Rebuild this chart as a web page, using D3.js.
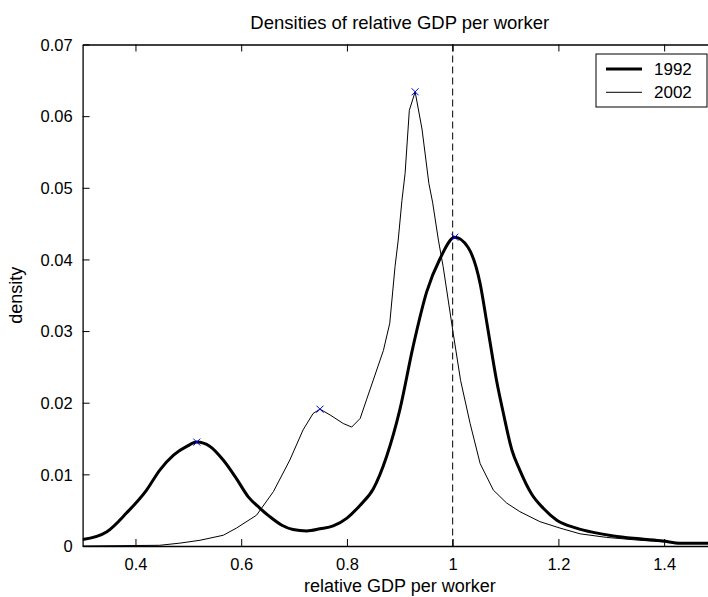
<!DOCTYPE html>
<html>
<head>
<meta charset="utf-8">
<script src="https://cdn.jsdelivr.net/npm/d3@7"></script>
<style>
  html, body { margin: 0; padding: 0; background: #fff; }
  svg { display: block; }
  text { font-family: "Liberation Sans", Arial, sans-serif; fill: #000; }
</style>
</head>
<body>
<svg id="chart" width="708" height="597"></svg>
<script>
// ---- data ----
const titleText = "Densities of relative GDP per worker";
const xLabelText = "relative GDP per worker";
const yLabelText = "density";
const seriesNames = ["1992", "2002"];

const x1992 = [0.30,0.346,0.383,0.421,0.446,0.472,0.497,0.516,0.541,0.566,0.591,0.613,0.635,0.654,0.677,0.698,0.724,0.749,0.774,0.800,0.825,0.850,0.875,0.900,0.925,0.951,0.976,1.004,1.029,1.052,1.065,1.083,1.096,1.112,1.127,1.149,1.171,1.197,1.234,1.266,1.304,1.354,1.398,1.430,1.500];
const y1992 = [0.0009,0.0020,0.0046,0.0078,0.0106,0.0127,0.0139,0.0145,0.0139,0.0120,0.0094,0.0069,0.0053,0.0041,0.0029,0.0023,0.0021,0.0024,0.0028,0.0039,0.0057,0.0080,0.0125,0.0190,0.0278,0.0355,0.0401,0.0431,0.0417,0.0366,0.0310,0.0231,0.0185,0.0134,0.0106,0.0073,0.0053,0.0036,0.0025,0.0019,0.0014,0.0010,0.0007,0.0004,0.0004];

const x2002 = [0.30,0.446,0.484,0.522,0.566,0.591,0.629,0.661,0.692,0.717,0.736,0.749,0.768,0.793,0.809,0.825,0.837,0.869,0.881,0.891,0.897,0.904,0.910,0.918,0.929,0.942,0.955,0.962,0.973,0.982,1.001,1.015,1.033,1.052,1.077,1.102,1.127,1.165,1.203,1.241,1.291,1.354,1.417,1.500];
const y2002 = [0.0000,0.0001,0.0004,0.0008,0.0015,0.0025,0.0043,0.0076,0.0120,0.0162,0.0185,0.0191,0.0183,0.0171,0.0166,0.0178,0.0204,0.0273,0.0311,0.0390,0.0427,0.0482,0.0520,0.0608,0.0634,0.0582,0.0506,0.0480,0.0427,0.0390,0.0297,0.0231,0.0171,0.0115,0.0078,0.0060,0.0048,0.0034,0.0025,0.0017,0.0012,0.0008,0.0005,0.0004];

// peak markers (x, y)
const peakX = [0.516, 1.004, 0.749, 0.929];
const peakY = [0.0145, 0.0431, 0.0191, 0.0634];

const xTicks = [0.4, 0.6, 0.8, 1.0, 1.2, 1.4];
const yTicks = [0, 0.01, 0.02, 0.03, 0.04, 0.05, 0.06, 0.07];
const refLineX = 1.0;

// ---- layout ----
const svg = d3.select("#chart");
const pL = 82.6, pR = 717, pT = 44.5, pB = 546;

const x = d3.scaleLinear().domain([0.3, 1.5]).range([pL, pR]);
const y = d3.scaleLinear().domain([0, 0.07]).range([pB, pT]);

// title
svg.append("text").attr("x", (pL + pR) / 2).attr("y", 29)
  .attr("text-anchor", "middle").style("font-size", "18.5px").text(titleText);

// axis labels
svg.append("text").attr("x", (pL + pR) / 2).attr("y", 592)
  .attr("text-anchor", "middle").style("font-size", "18px").text(xLabelText);
svg.append("text").attr("transform", `translate(22,${(pT + pB) / 2}) rotate(-90)`)
  .attr("text-anchor", "middle").style("font-size", "18px").text(yLabelText);

// dashed reference line at x = 1
svg.append("line")
  .attr("x1", x(refLineX)).attr("x2", x(refLineX))
  .attr("y1", pT).attr("y2", pB)
  .attr("stroke", "#000").attr("stroke-width", 1).attr("stroke-dasharray", "7,4");

// curves
svg.append("clipPath").attr("id", "plotclip").append("rect")
  .attr("x", pL).attr("y", pT).attr("width", pR - pL).attr("height", pB - pT);

const d1992 = x1992.map((v, i) => [v, y1992[i]]);
const d2002 = x2002.map((v, i) => [v, y2002[i]]);

svg.append("path").datum(d2002)
  .attr("clip-path", "url(#plotclip)")
  .attr("fill", "none").attr("stroke", "#000").attr("stroke-width", 1)
  .attr("d", d3.line().x(d => x(d[0])).y(d => y(d[1])).curve(d3.curveLinear));

svg.append("path").datum(d1992)
  .attr("clip-path", "url(#plotclip)")
  .attr("fill", "none").attr("stroke", "#000").attr("stroke-width", 3)
  .attr("stroke-linejoin", "round")
  .attr("d", d3.line().x(d => x(d[0])).y(d => y(d[1])).curve(d3.curveMonotoneX));

// peak markers (blue x)
const ms = 3.5;
peakX.forEach((px, i) => {
  const cx = x(px), cy = y(peakY[i]);
  svg.append("path")
    .attr("d", `M${cx - ms},${cy - ms}L${cx + ms},${cy + ms}M${cx - ms},${cy + ms}L${cx + ms},${cy - ms}`)
    .attr("stroke", "#0000ff").attr("stroke-width", 1).attr("fill", "none");
});

// axes (MATLAB style: inward ticks, box)
const tickLen = 7;
const axB = svg.append("g").attr("transform", `translate(0,${pB})`)
  .call(d3.axisBottom(x).tickValues(xTicks).tickSizeInner(-tickLen).tickSizeOuter(0)
    .tickFormat(d => d3.format("~g")(d)).tickPadding(16));
const axT = svg.append("g").attr("transform", `translate(0,${pT})`)
  .call(d3.axisTop(x).tickValues(xTicks).tickSizeInner(-tickLen).tickSizeOuter(0).tickFormat(""));
const axL = svg.append("g").attr("transform", `translate(${pL},0)`)
  .call(d3.axisLeft(y).tickValues(yTicks).tickSizeInner(-tickLen).tickSizeOuter(0)
    .tickFormat(d => d === 0 ? "0" : d3.format(".2f")(d)).tickPadding(16));
const axR = svg.append("g").attr("transform", `translate(${pR},0)`)
  .call(d3.axisRight(y).tickValues(yTicks).tickSizeInner(-tickLen).tickSizeOuter(0).tickFormat(""));

[axB, axT, axL, axR].forEach(g => {
  g.selectAll(".domain").attr("stroke", "#000").attr("stroke-width", 1.3);
  g.selectAll(".tick line").attr("stroke", "#000").attr("stroke-width", 1);
  g.selectAll("text").style("font-family", '"Liberation Sans", Arial, sans-serif')
    .style("font-size", "16.5px").attr("fill", "#000");
});
axB.selectAll(".tick text").attr("dy", null).attr("y", 24);
axL.selectAll(".tick text").attr("x", -10).attr("dy", "0.35em");

// legend
const lg = svg.append("g");
lg.append("rect").attr("x", 596).attr("y", 54).attr("width", 111).attr("height", 53)
  .attr("fill", "#fff").attr("stroke", "#000").attr("stroke-width", 1);
const legW = [3, 1];
seriesNames.forEach((name, i) => {
  const ly = 69 + i * 23.3;
  lg.append("line").attr("x1", 606).attr("x2", 642).attr("y1", ly).attr("y2", ly)
    .attr("stroke", "#000").attr("stroke-width", legW[i]);
  lg.append("text").attr("x", 654).attr("y", ly + 6).style("font-size", "17px").text(name);
});
</script>
</body>
</html>
